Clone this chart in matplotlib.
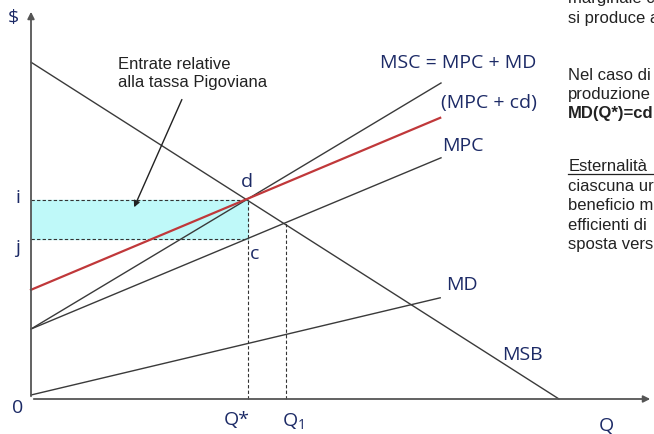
import matplotlib.pyplot as plt
import numpy as np

# --- Curve endpoints (Q, $) ---
msb_q = [0.0, 13.2]
msb_p = [8.42, 0.0]
mpc_q = [0.0, 10.25]
mpc_p = [1.75, 6.03]
msc_q = [0.0, 10.25]
msc_p = [1.75, 7.9]
tax_q = [0.0, 10.23]
tax_p = [2.73, 7.03]
md_q = [0.0, 10.23]
md_p = [0.1, 2.53]

q_star = 5.43
q_one = 6.38
p_i = 4.98
p_j = 4.0
p_q1 = 4.4

# slide text cut off by the crop on the right, with its vertical position
side_lines = ["marginale c", "si produce a", "Nel caso di", "produzione",
              "MD(Q*)=cd", "Esternalità", "ciascuna ur", "beneficio m",
              "efficienti di", "sposta vers"]
side_y = [10.03, 9.55, 8.12, 7.65, 7.17, 5.83, 5.33, 4.85, 4.35, 3.88]

NAVY = '#1c2a66'
GREY = '#3a3a3a'
RED = '#c0383a'
LAB = ['Open Sans', 'DejaVu Sans']
FS = 14

fig = plt.figure(figsize=(6.54, 4.35), dpi=100)
ax = fig.add_axes([0, 0, 1, 1])
ax.set_xlim(-0.775, 15.575)
ax.set_ylim(-0.875, 10.0)
ax.axis('off')

# axes with arrows
ax.annotate('', xy=(0, 9.75), xytext=(0, 0),
            arrowprops=dict(arrowstyle='-|>', color='#555555', lw=1.3, mutation_scale=10))
ax.annotate('', xy=(15.55, 0), xytext=(0, 0),
            arrowprops=dict(arrowstyle='-|>', color='#555555', lw=1.3, mutation_scale=10))

# tax revenue rectangle
ax.fill_between([0, q_star], p_j, p_i, color='#bff9f9', zorder=1)
ax.plot([0, q_star], [p_i, p_i], ls='--', color='#333333', lw=0.8, dashes=(3, 2))
ax.plot([0, q_star], [p_j, p_j], ls='--', color='#333333', lw=0.8, dashes=(3, 2))
ax.plot([q_star, q_star], [0, p_i], ls='--', color='#333333', lw=0.8, dashes=(3, 2))
ax.plot([q_one, q_one], [0, p_q1], ls='--', color='#333333', lw=0.8, dashes=(3, 2))

# curves
ax.plot(msb_q, msb_p, color=GREY, lw=1.0)
ax.plot(mpc_q, mpc_p, color=GREY, lw=1.0)
ax.plot(msc_q, msc_p, color=GREY, lw=1.0)
ax.plot(md_q, md_p, color=GREY, lw=1.0)
ax.plot(tax_q, tax_p, color=RED, lw=1.6)

# curve / point labels
def lab(x, y, s):
    ax.text(x, y, s, color=NAVY, fontsize=FS, family=LAB, ha='center', va='center')

lab(-0.45, 9.55, '\\$')
lab(-0.325, 5.05, 'i')
lab(-0.325, 3.8, 'j')
lab(-0.325, -0.2, '0')
lab(5.4, 5.45, 'd')
lab(5.6, 3.65, 'c')
lab(5.15, -0.5, 'Q*')
lab(6.55, -0.55, 'Q$_\\mathregular{1}$')
lab(14.375, -0.65, 'Q')
lab(12.275, 1.13, 'MSB')
lab(10.775, 2.87, 'MD')
lab(10.8, 6.35, 'MPC')
lab(11.45, 7.43, '(MPC + cd)')
lab(10.675, 8.43, 'MSC = MPC + MD')

# annotation for the rectangle
ax.text(2.18, 8.17, 'Entrate relative\nalla tassa Pigoviana', fontsize=12,
        family='Liberation Sans', color='#222222', ha='left', va='center', linespacing=1.25)
ax.annotate('', xy=(2.55, 4.73), xytext=(3.8, 7.55),
            arrowprops=dict(arrowstyle='-|>', color='#222222', lw=1.0, mutation_scale=9))

# cropped slide text on the right
for line, y in zip(side_lines, side_y):
    bold = line.startswith('MD(')
    ax.text(13.43, y, line, fontsize=12, family='Liberation Sans', color='#222222',
            ha='left', va='center', fontweight='bold' if bold else 'normal')
    if line == 'Esternalità':
        ax.plot([13.43, 15.6], [y - 0.21, y - 0.21], color='#222222', lw=0.9)

fig.savefig('out.png', dpi=100)
